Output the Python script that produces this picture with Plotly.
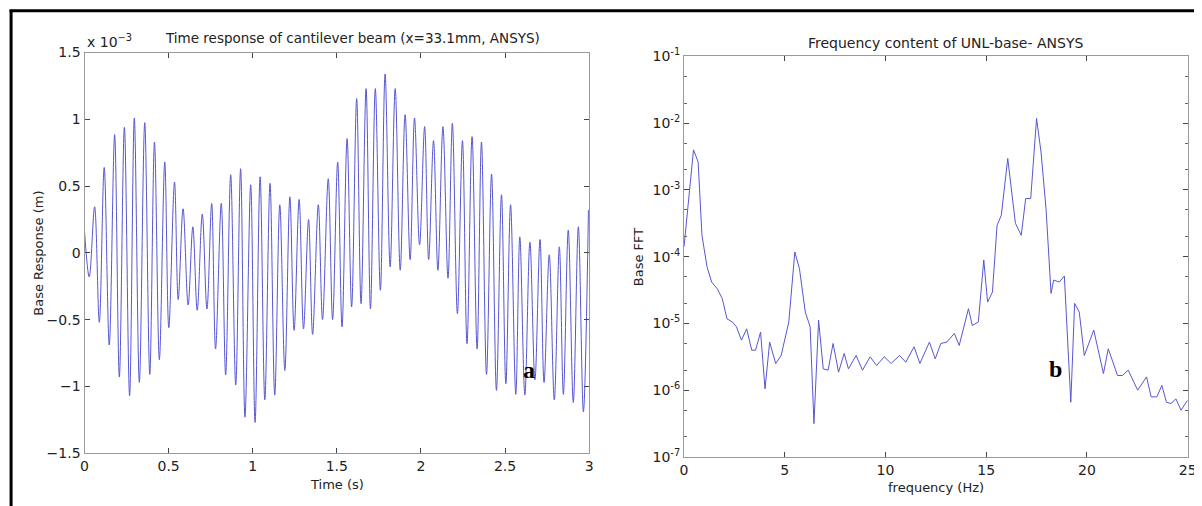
import plotly.graph_objects as go

# ---- Left panel: time response (values in 1e-3 m), read at peaks/troughs ----
time_s = [0.000, 0.028, 0.060, 0.088, 0.117, 0.147, 0.179, 0.207, 0.237, 0.268,
          0.296, 0.326, 0.358, 0.388, 0.416, 0.445, 0.477, 0.501, 0.535, 0.557,
          0.586, 0.616, 0.644, 0.670, 0.700, 0.728, 0.756, 0.779, 0.813, 0.839,
          0.869, 0.899, 0.928, 0.954, 0.988, 1.014, 1.044, 1.072, 1.103, 1.131,
          1.161, 1.191, 1.221, 1.246, 1.276, 1.302, 1.332, 1.356, 1.390, 1.415,
          1.449, 1.475, 1.505, 1.531, 1.561, 1.588, 1.618, 1.644, 1.674, 1.700,
          1.729, 1.759, 1.787, 1.817, 1.847, 1.877, 1.906, 1.936, 1.962, 1.992,
          2.022, 2.046, 2.075, 2.101, 2.131, 2.161, 2.187, 2.217, 2.247, 2.274,
          2.304, 2.334, 2.360, 2.390, 2.420, 2.449, 2.479, 2.505, 2.533, 2.564,
          2.588, 2.618, 2.648, 2.678, 2.708, 2.732, 2.763, 2.793, 2.823, 2.847,
          2.876, 2.906, 2.936, 2.966, 2.996]
response_e3 = [0.16, -0.18, 0.345, -0.52, 0.64, -0.69, 0.885, -0.93, 0.94, -1.07,
               1.01, -0.97, 0.975, -0.91, 0.83, -0.80, 0.68, -0.56, 0.53, -0.35,
               0.33, -0.39, 0.195, -0.43, 0.29, -0.42, 0.37, -0.72, 0.37, -0.915,
               0.585, -0.99, 0.63, -1.23, 0.51, -1.27, 0.57, -1.10, 0.52, -1.065,
               0.36, -0.88, 0.42, -0.58, 0.40, -0.57, 0.25, -0.61, 0.36, -0.50,
               0.555, -0.50, 0.68, -0.555, 0.855, -0.405, 1.155, -0.38, 1.23, -0.42,
               1.23, -0.28, 1.34, -0.105, 1.23, -0.13, 1.035, -0.05, 1.01, 0.06,
               0.945, -0.05, 0.84, -0.13, 0.945, -0.19, 0.97, -0.455, 0.84, -0.68,
               0.87, -0.72, 0.83, -0.91, 0.59, -1.03, 0.435, -0.98, 0.36, -1.06,
               0.12, -1.065, 0.08, -0.95, 0.10, -0.97, -0.015, -1.10, 0.045, -1.06,
               0.17, -1.12, 0.195, -1.19, 0.32]

# ---- Right panel: FFT magnitude (log10 of values) ----
freq_hz = [0.00, 0.27, 0.47, 0.70, 0.89, 1.14, 1.37, 1.65, 1.90, 2.13,
           2.41, 2.60, 2.85, 3.11, 3.36, 3.55, 3.80, 4.02, 4.25, 4.55,
           4.82, 5.20, 5.50, 5.73, 6.02, 6.26, 6.45, 6.68, 6.91, 7.15,
           7.40, 7.67, 7.95, 8.16, 8.54, 8.86, 9.24, 9.56, 9.94, 10.28,
           10.70, 11.01, 11.42, 11.71, 12.18, 12.47, 12.75, 13.04, 13.42, 13.66,
           14.12, 14.31, 14.61, 14.88, 15.07, 15.31, 15.54, 15.75, 16.07, 16.45,
           16.74, 16.96, 17.21, 17.50, 17.72, 17.97, 18.22, 18.35, 18.63, 18.88,
           19.20, 19.39, 19.62, 19.87, 20.34, 20.82, 21.06, 21.52, 21.76, 22.05,
           22.52, 22.96, 23.19, 23.47, 23.72, 23.95, 24.17, 24.42, 24.67, 25.00]
fft_log10 = [-3.85, -3.03, -2.40, -2.58, -3.68, -4.15, -4.38, -4.48, -4.63, -4.93,
             -4.98, -5.05, -5.25, -5.08, -5.40, -5.40, -5.13, -5.98, -5.28, -5.60,
             -5.48, -4.98, -3.93, -4.18, -4.83, -5.05, -6.50, -4.95, -5.68, -5.70,
             -5.30, -5.73, -5.45, -5.68, -5.48, -5.70, -5.50, -5.63, -5.50, -5.60,
             -5.48, -5.58, -5.35, -5.60, -5.28, -5.53, -5.30, -5.28, -5.15, -5.33,
             -4.78, -5.03, -4.98, -4.05, -4.68, -4.53, -3.53, -3.38, -2.53, -3.50,
             -3.68, -3.13, -3.13, -1.93, -2.43, -3.28, -4.55, -4.35, -4.38, -4.29,
             -6.18, -4.70, -4.83, -5.48, -5.10, -5.75, -5.38, -5.78, -5.78, -5.70,
             -6.00, -5.80, -6.10, -6.10, -5.93, -6.18, -6.20, -6.13, -6.30, -6.15]
fft_vals = [10 ** v for v in fft_log10]

left_yticks = [-1.5, -1, -0.5, 0, 0.5, 1, 1.5]
left_xticks = [0, 0.5, 1, 1.5, 2, 2.5, 3]
right_xticks = [0, 5, 10, 15, 20, 25]
right_yexp = [-7, -6, -5, -4, -3, -2, -1]

# Layout placement: target picture coordinates are converted to figure fractions
W, H = 1204, 522
OX, OY = 8, 8          # body margin of the page
SX, SY = 0.99, 0.964   # observed picture scale
CX, CY = 3.5, 9.5      # observed picture offset
FONT = "DejaVu Sans, Verdana, sans-serif"
TXT = "#222222"
LINE = "#5656d4"

def px(x):
    return ((x - CX) / SX - OX) / W

def py(y):
    return 1 - ((y - CY) / SY - OY) / H

fig = go.Figure()
fig.add_trace(go.Scatter(x=time_s, y=response_e3, mode="lines",
                         line=dict(color=LINE, width=1, shape="spline", smoothing=1.0),
                         xaxis="x", yaxis="y", showlegend=False))
fig.add_trace(go.Scatter(x=freq_hz, y=fft_vals, mode="lines",
                         line=dict(color=LINE, width=1),
                         xaxis="x2", yaxis="y2", showlegend=False))

axis_common = dict(showgrid=False, zeroline=False, showline=True, linecolor="#9a9a9a",
                   linewidth=1.2, mirror="ticks", ticks="inside", ticklen=5,
                   tickcolor="#444", tickwidth=1,
                   tickfont=dict(family=FONT, size=14, color=TXT))

fig.update_layout(
    width=W, height=H,
    margin=dict(l=0, r=0, t=0, b=0),
    paper_bgcolor="white", plot_bgcolor="white",
    xaxis=dict(domain=[px(84), px(589)], range=[0, 3], tickvals=left_xticks,
               ticktext=[f"{v:g}" for v in left_xticks], anchor="y", **axis_common),
    yaxis=dict(domain=[py(451.7), py(51.7)], range=[-1.5, 1.5], tickvals=left_yticks,
               ticktext=["\u22121.5", "\u22121", "\u22120.5", "0", "0.5", "1", "1.5"],
               anchor="x", **axis_common),
    xaxis2=dict(domain=[px(684), px(1188)], range=[0, 25], tickvals=right_xticks,
                anchor="y2", **axis_common),
    yaxis2=dict(domain=[py(455.5), py(55.5)], type="log", range=[-7, -1],
                tickvals=[10 ** e for e in right_yexp],
                ticktext=[f"10<sup>{e}</sup>" for e in right_yexp],
                minor=dict(ticks="inside", ticklen=3, tickcolor="#666", showgrid=False),
                anchor="x2", **axis_common),
)

ann = [
    dict(text="Time response of cantilever beam (x=33.1mm, ANSYS)", x=px(352), y=py(37),
         font=dict(size=13.5, color=TXT)),
    dict(text="x 10<sup>\u22123</sup>", x=px(84), y=py(40), xanchor="left",
         font=dict(size=14, color=TXT)),
    dict(text="Time (s)", x=px(337), y=py(483), font=dict(size=13, color=TXT)),
    dict(text="Base Response (m)", x=px(38), y=py(252), textangle=-90,
         font=dict(size=13, color=TXT)),
    dict(text="Frequency content of UNL-base- ANSYS", x=px(946), y=py(42),
         font=dict(size=14, color=TXT)),
    dict(text="frequency (Hz)", x=px(936), y=py(486), font=dict(size=13, color=TXT)),
    dict(text="Base FFT", x=px(638), y=py(256), textangle=-90,
         font=dict(size=13, color=TXT)),
    dict(text="<b>a</b>", x=px(529), y=py(369),
         font=dict(size=24, color="black", family="Liberation Serif, Times New Roman, serif")),
    dict(text="<b>b</b>", x=px(1056), y=py(368),
         font=dict(size=24, color="black", family="Liberation Serif, Times New Roman, serif")),
]
for a in ann:
    a.setdefault("xanchor", "center")
    a.update(xref="paper", yref="paper", showarrow=False, yanchor="middle")
    a["font"].setdefault("family", FONT)
fig.update_layout(annotations=ann)

fig.update_layout(shapes=[
    dict(type="line", xref="paper", yref="paper", x0=px(9), x1=1, y0=py(10), y1=py(10),
         line=dict(color="black", width=3)),
    dict(type="line", xref="paper", yref="paper", x0=px(10.5), x1=px(10.5), y0=py(9), y1=0,
         line=dict(color="black", width=3)),
])

fig.write_html("out.html")
